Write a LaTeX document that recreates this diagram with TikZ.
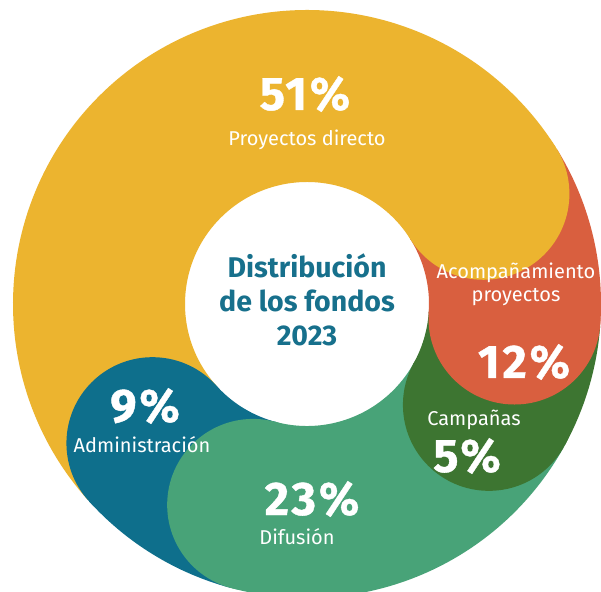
\documentclass[tikz,border=0pt]{standalone}
\usepackage{fontspec}
\setmainfont{Fira Sans}
\newfontfamily\pctfont[BoldFeatures={FakeBold=0.8,LetterSpace=6}]{Fira Sans}
\definecolor{fyellow}{HTML}{ECB42F}
\definecolor{fred}{HTML}{D95F3F}
\definecolor{fdkgreen}{HTML}{3D7531}
\definecolor{fltgreen}{HTML}{48A378}
\definecolor{fblue}{HTML}{0E6F8C}
\definecolor{ftitle}{HTML}{17708C}
\begin{document}
\begin{tikzpicture}[x=1pt,y=1pt,
  band/.style={line width=172pt},
  pct/.style={text=white,anchor=base,font=\pctfont\bfseries\fontsize{47}{47}\selectfont},
  lbl/.style={text=white,anchor=base,align=center,font=\fontsize{20}{23}\selectfont}]
\useasboundingbox (0,0) rectangle (601,591);
\clip (0,0) rectangle (601,591);
\fill[white] (0,0) rectangle (601,591);
\coordinate (c) at (307,287);
% band of proyectos directo
\draw[band,color=fyellow] (c) ++(222:208) arc[start angle=222, end angle=32, radius=208];
% administracion, round end into proyectos
\draw[band,color=fblue] (c) ++(-105:208) arc[start angle=-105, end angle=-138, radius=208];
\fill[fblue] (c) ++(-138:208) circle (86);
% difusion, round end into administracion
\draw[band,color=fltgreen] (c) ++(-29:208) arc[start angle=-29, end angle=-105, radius=208];
\fill[fltgreen] (c) ++(-105:208) circle (86);
% campanas, round end into difusion
\draw[band,color=fdkgreen] (c) ++(-4:208) arc[start angle=-4, end angle=-29, radius=208];
\fill[fdkgreen] (c) ++(-29:208) circle (86);
% acompanamiento, round end into campanas
\draw[band,color=fred] (c) ++(32:208) arc[start angle=32, end angle=-4, radius=208];
\fill[fred] (c) ++(-4:208) circle (86);
% round end of proyectos directo
\fill[fyellow] (c) ++(32:208) circle (86);
% title in the hole
\node[text=ftitle,align=center,font=\bfseries\fontsize{28.5}{34}\selectfont] (title) at (307,291)
  {Distribución\\de los fondos\\2023};
% percentages and labels
\node[pct] (p51) at (305,481) {51\%};
\node[lbl] (lproy) at (307,445) {Proyectos directo};
\node[lbl] (lacomp) at (516,289) {Acompañamiento\\proyectos};
\node[pct] (p12) at (524,213) {12\%};
\node[lbl] (lcamp) at (474,165) {Campañas};
\node[pct] (p5) at (467,119) {5\%};
\node[pct] (p9) at (145,169) {9\%};
\node[lbl] (ladmin) at (142,139) {Administración};
\node[pct] (p23) at (312,76) {23\%};
\node[lbl] (ldif) at (297,47) {Difusión};
\end{tikzpicture}
\end{document}
